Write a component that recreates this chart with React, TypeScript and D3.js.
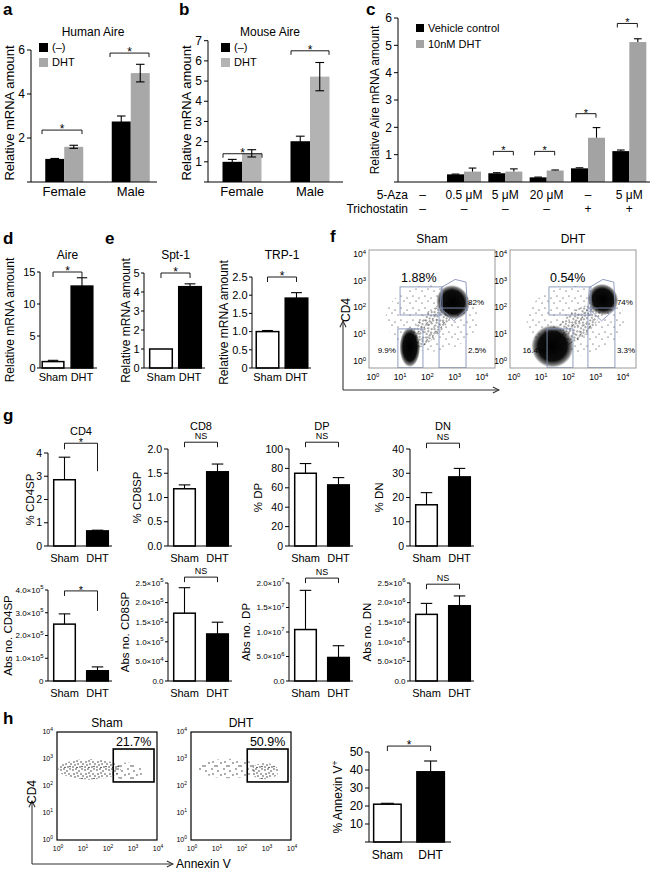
import React from 'react'
import * as d3 from 'd3'

const FONT = "'Liberation Sans', Arial, Helvetica, sans-serif"
const GREY = '#a8a8a8'

// a / b: Aire expression, vehicle vs DHT
const sexGroups = ['Female', 'Male']
const humanCtrl = [1.05, 2.75]
const humanCtrlErr = [0.02, 0.25]
const humanDht = [1.6, 4.95]
const humanDhtErr = [0.07, 0.4]
const mouseCtrl = [1.0, 2.02]
const mouseCtrlErr = [0.12, 0.25]
const mouseDht = [1.42, 5.22]
const mouseDhtErr = [0.18, 0.7]

// c: 5-Aza / Trichostatin
const azaLabels = ['–', '0.5 μM', '5 μM', '20 μM', '–', '5 μM']
const trichoLabels = ['–', '–', '–', '–', '+', '+']
const cCtrl = [0, 0.28, 0.32, 0.17, 0.5, 1.13]
const cCtrlErr = [0, 0.01, 0.02, 0.01, 0.02, 0.04]
const cDht = [0, 0.38, 0.38, 0.42, 1.62, 5.12]
const cDhtErr = [0, 0.13, 0.1, 0.02, 0.37, 0.12]
const cSig = [null, null, 1.12, 1.12, 2.5, 5.8]

// d / e
const shamDht = ['Sham', 'DHT']
const aireVivo = [1.0, 12.8]
const aireVivoErr = [0.2, 1.3]
const spt1 = [1.0, 4.28]
const spt1Err = [0, 0.15]
const trp1 = [1.0, 1.92]
const trp1Err = [0.03, 0.15]

// g: thymocyte subsets
const subsetNames = ['CD4', 'CD8', 'DP', 'DN']
const pctLabels = ['% CD4SP', '% CD8SP', '% DP', '% DN']
const pctMean = [[2.85, 0.65], [1.18, 1.53], [75, 63], [17, 28.5]]
const pctErr = [[0.97, 0.03], [0.08, 0.16], [10, 7.5], [5, 3.5]]
const pctTicks = [[0, 1, 2, 3, 4], [0, 0.5, 1, 1.5, 2], [0, 20, 40, 60, 80, 100], [0, 10, 20, 30, 40]]
const pctFmt = ['d', '.1f', 'd', 'd']
const pctBracket = [4.42, 2.14, 107, 42.4]
const sigMarks = ['*', 'NS', 'NS', 'NS']
const absLabels = ['Abs no. CD4SP', 'Abs no. CD8SP', 'Abs no. DP', 'Abs no. DN']
const absMean = [[2.5e5, 0.45e5], [1.73e5, 1.2e5], [1.05e7, 4.8e6], [1.7e6, 1.92e6]]
const absErr = [[0.45e5, 0.17e5], [0.65e5, 0.3e5], [0.8e7, 2.4e6], [0.28e6, 0.25e6]]
const absTicks = [[0, 1e5, 2e5, 3e5, 4e5], [0, 5e4, 1e5, 1.5e5, 2e5, 2.5e5], [0, 5e6, 1e7, 1.5e7, 2e7], [0, 5e5, 1e6, 1.5e6, 2e6, 2.5e6]]
const absBracket = [3.96e5, 2.65e5, 2.1e7, 2.47e6]

// h: Annexin V
const annexinPct = [21, 39]
const annexinErr = [0.5, 6]

// f: CD4 x CD8 populations (log10 units): centre, radii, rotation, density kind
const fShamPops = [
  { c: [2.2, 1.6], r: [1.7, 1.25], rot: 0, kind: 'sparse' },
  { c: [2.1, 1.3], r: [1.15, 0.45], rot: -45, kind: 'dense' },
  { c: [2.97, 2.2], r: [0.6, 0.66], rot: -35, kind: 'core' },
  { c: [1.39, 0.52], r: [0.38, 0.75], rot: 0, kind: 'core' },
]
const fDhtPops = [
  { c: [2.3, 1.5], r: [1.8, 1.3], rot: 0, kind: 'sparse' },
  { c: [2.35, 1.35], r: [1.05, 0.48], rot: -40, kind: 'dense' },
  { c: [3.3, 2.3], r: [0.55, 0.6], rot: -35, kind: 'core' },
  { c: [1.45, 0.55], r: [0.78, 0.8], rot: 0, kind: 'core' },
]
const fShamGates = [[1.03, 2.57, 1.72, 2.77], [0.95, 1.87, -0.25, 1.2], [2.46, 3.45, -0.25, 1.98]]
const fDhtGates = [[1.32, 2.86, 1.72, 2.77], [1.25, 2.2, -0.25, 1.2], [2.75, 3.74, -0.25, 1.98]]
const fShamDpGate = [[2.5, 2.0], [2.55, 2.75], [3.05, 3.05], [3.45, 2.95], [3.5, 1.95], [3.0, 1.5]]
const fDhtDpGate = [[2.75, 2.0], [2.8, 2.75], [3.3, 3.05], [3.7, 2.95], [3.75, 1.95], [3.25, 1.5]]
const fShamPct = ['1.88%', '82%', '9.9%', '2.5%']
const fDhtPct = ['0.54%', '74%', '16.4%', '3.3%']

// h: CD4 x Annexin V populations
const hShamPops = [
  { c: [1.3, 2.62], r: [1.25, 0.38], rot: 0, kind: 'dense' },
  { c: [2.8, 2.55], r: [0.65, 0.32], rot: 0, kind: 'medium' },
]
const hDhtPops = [
  { c: [1.5, 2.65], r: [1.2, 0.36], rot: 0, kind: 'medium' },
  { c: [2.95, 2.55], r: [0.55, 0.3], rot: 0, kind: 'dense' },
]
const hGate = [2.25, 3.88, 2.15, 3.37]
const hPct = ['21.7%', '50.9%']

// texture tiles for dot-plot clouds
const denseTile = [[1, 2], [4, 1], [7, 3], [10, 1], [2, 6], [5, 5], [9, 6], [11, 8], [3, 9], [6, 8], [8, 11], [1, 11], [5, 11.5], [10, 10.5]]
const mediumTile = [[2, 3], [8, 1], [5, 7], [11, 10], [1, 10], [9, 6]]
const sparseTile = [[2, 3], [8, 1], [5, 8], [11, 10]]

const sci = (v: number) => {
  if (v === 0) return '0.0'
  const ex = Math.floor(Math.log10(v) + 1e-9)
  return (
    <>
      {(v / 10 ** ex).toFixed(1)}×10<tspan dy="-3.5" fontSize="0.75em">{ex}</tspan>
    </>
  )
}

const pow10 = (k: number) => (
  <>
    10<tspan dy="-3" fontSize="0.7em">{k}</tspan>
  </>
)

function YAxis({ x, scale, ticks, fmt, size = 11, tick = 4, gap = 2, labelZero = true }: any) {
  const top = ticks[ticks.length - 1]
  return (
    <g>
      <line x1={x} x2={x} y1={scale(0)} y2={scale(top)} stroke="#000" />
      {ticks.map((t: number) => (
        <g key={t}>
          <line x1={x - tick} x2={x} y1={scale(t)} y2={scale(t)} stroke="#000" />
          {(t !== 0 || labelZero) && (
            <text x={x - tick - gap} y={scale(t)} dy="0.35em" textAnchor="end" fontSize={size}>
              {fmt(t)}
            </text>
          )}
        </g>
      ))}
    </g>
  )
}

function YLabel({ x, y, text, size = 12 }: any) {
  return (
    <text transform={`translate(${x},${y}) rotate(-90)`} textAnchor="middle" fontSize={size}>
      {text}
    </text>
  )
}

function ErrBar({ cx, y, v, e, w, both = false }: any) {
  if (!e) return null
  const lo = both ? v - e : v
  return (
    <g stroke="#000" strokeWidth={1.1}>
      <line x1={cx} x2={cx} y1={y(lo)} y2={y(v + e)} />
      <line x1={cx - w / 2} x2={cx + w / 2} y1={y(v + e)} y2={y(v + e)} />
      {both && <line x1={cx - w / 2} x2={cx + w / 2} y1={y(lo)} y2={y(lo)} />}
    </g>
  )
}

function Bracket({ x1, x2, y, l1 = 4, l2 = 4, label, size = 11 }: any) {
  const star = label === '*'
  return (
    <g>
      <path d={`M${x1},${y + l1}V${y}H${x2}V${y + l2}`} fill="none" stroke="#000" strokeWidth={0.9} />
      <text x={(x1 + x2) / 2} y={star ? y + 3 : y - 3.5} textAnchor="middle" fontSize={star ? size : size - 2} fill="#000">
        {label}
      </text>
    </g>
  )
}

function Legend({ x, y, items, size = 11, box = 9, step = 15 }: any) {
  return (
    <g>
      {items.map((it: any, i: number) => (
        <g key={it.label}>
          <rect x={x} y={y + i * step} width={box} height={box} fill={it.fill} />
          <text x={x + box + 4} y={y + i * step + box / 2} dy="0.35em" fontSize={size}>
            {it.label}
          </text>
        </g>
      ))}
    </g>
  )
}

function GroupedBars({ groups, band, y, ctrl, ctrlErr, dht, dhtErr, bw, both, dhtFill = GREY }: any) {
  return (
    <g>
      {groups.map((g: string, i: number) => {
        const c = band(g)! + band.bandwidth() / 2
        return (
          <g key={g + i}>
            {ctrl[i] > 0 && <rect x={c - bw} y={y(ctrl[i])} width={bw} height={y(0) - y(ctrl[i])} fill="#000" />}
            {dht[i] > 0 && <rect x={c} y={y(dht[i])} width={bw} height={y(0) - y(dht[i])} fill={dhtFill} />}
            <ErrBar cx={c - bw / 2} y={y} v={ctrl[i]} e={ctrlErr[i]} w={bw * 0.45} both={both} />
            <ErrBar cx={c + bw / 2} y={y} v={dht[i]} e={dhtErr[i]} w={bw * 0.45} both={both} />
          </g>
        )
      })}
    </g>
  )
}

function PairBars({ x0, width, pi, po, y, vals, errs, ticks, fmt, tickSize = 11, tick = 4, gap = 2, labelZero = true, axisEnd, labelY, labelSize = 12, bracket, sig = '*', legs = [5, 5], title, titleY, titleSize = 12, ylabel, ylabelX, ylabelSize = 12, capFrac = 0.45 }: any) {
  const x = d3.scaleBand().domain(shamDht).range([x0, x0 + width]).paddingInner(pi).paddingOuter(po)
  const bw = x.bandwidth()
  const cs = shamDht.map((k) => x(k)! + bw / 2)
  const [yb, yt] = y.range()
  return (
    <g>
      {shamDht.map((k, i) => (
        <g key={k}>
          <rect x={x(k)! + 0.75} y={y(vals[i])} width={bw - 1.5} height={y(0) - y(vals[i])} fill={i ? '#000' : '#fff'} stroke="#000" strokeWidth={1.5} />
          <ErrBar cx={cs[i]} y={y} v={vals[i]} e={errs[i]} w={bw * capFrac} />
          <text x={cs[i]} y={labelY} textAnchor="middle" fontSize={labelSize}>{k}</text>
        </g>
      ))}
      <line x1={x0} x2={axisEnd} y1={yb} y2={yb} stroke="#000" />
      <YAxis x={x0} scale={y} ticks={ticks} fmt={fmt} size={tickSize} tick={tick} gap={gap} labelZero={labelZero} />
      {bracket !== undefined && <Bracket x1={cs[0]} x2={cs[1]} y={y(bracket)} l1={legs[0]} l2={legs[1]} label={sig} size={titleSize} />}
      {title && <text x={(cs[0] + cs[1]) / 2} y={titleY} textAnchor="middle" fontSize={titleSize}>{title}</text>}
      {ylabel && <YLabel x={ylabelX} y={(yb + yt) / 2} text={ylabel} size={ylabelSize} />}
    </g>
  )
}

function Blobs({ pops, px, py, dx, dy }: any) {
  const fills: any = { core: 'url(#blobCore)', dense: 'url(#dotsDense)', medium: 'url(#dotsMedium)', sparse: 'url(#dotsSparse)' }
  return (
    <g>
      {pops.map((p: any, i: number) => {
        const cx = px(p.c[0])
        const cy = py(p.c[1])
        return (
          <ellipse key={i} cx={cx} cy={cy} rx={p.r[0] * dx} ry={p.r[1] * dy} fill={fills[p.kind]} transform={`rotate(${p.rot},${cx},${cy})`} />
        )
      })}
    </g>
  )
}

function FlowF({ x0, pops, gates, dpGate, pct, title }: any) {
  const xs = d3.scaleLog().domain([1, 1e4]).range([x0 + 3, x0 + 112])
  const ys = d3.scaleLog().domain([1, 1e4]).range([361, 254])
  const px = (L: number) => xs(10 ** L)
  const py = (L: number) => ys(10 ** L)
  const dx = xs(10) - xs(1)
  const dy = ys(1) - ys(10)
  const id = `clipF${x0}`
  const gateColor = '#8593b8'
  const line = d3.line().x((d: any) => px(d[0])).y((d: any) => py(d[1])).curve(d3.curveLinearClosed)
  return (
    <g>
      <defs>
        <clipPath id={id}><rect x={x0} y={250} width={126} height={118} /></clipPath>
      </defs>
      <g clipPath={`url(#${id})`}>
        <Blobs pops={pops} px={px} py={py} dx={dx} dy={dy} />
        {gates.map((g: number[], i: number) => (
          <rect key={i} x={px(g[0])} y={py(g[3])} width={px(g[1]) - px(g[0])} height={py(g[2]) - py(g[3])} fill="none" stroke={gateColor} strokeWidth={0.9} />
        ))}
        <path d={line(dpGate as any) || ''} fill="none" stroke={gateColor} strokeWidth={0.9} />
      </g>
      <rect x={x0} y={250} width={126} height={118} fill="none" stroke="#999" />
      {[0, 1, 2, 3, 4].map((k) => (
        <g key={k} fontSize={8.5}>
          <text x={x0 - 3} y={py(k)} dy="0.35em" textAnchor="end">{pow10(k)}</text>
          <text x={px(k) + 1} y={380} textAnchor="middle">{pow10(k)}</text>
        </g>
      ))}
      <text x={x0 + 63} y={243} textAnchor="middle" fontSize={12}>{title}</text>
      <text x={px(gates[0][0]) + 1} y={282} fontSize={12.5}>{pct[0]}</text>
      <text x={px(gates[2][1]) + 2} y={py(2.2)} dy="0.35em" fontSize={8}>{pct[1]}</text>
      <text x={px(gates[1][0]) - 2} y={py(0.4)} dy="0.35em" fontSize={8} textAnchor="end">{pct[2]}</text>
      <text x={px(gates[2][1]) + 2} y={py(0.4)} dy="0.35em" fontSize={8}>{pct[3]}</text>
    </g>
  )
}

function FlowH({ x0, pops, pct, title }: any) {
  const xs = d3.scaleLog().domain([1, 1e4]).range([x0, x0 + 100])
  const ys = d3.scaleLog().domain([1, 1e4]).range([840, 732])
  const px = (L: number) => xs(10 ** L)
  const py = (L: number) => ys(10 ** L)
  const dx = xs(10) - xs(1)
  const dy = ys(1) - ys(10)
  return (
    <g>
      <Blobs pops={pops} px={px} py={py} dx={dx} dy={dy} />
      <rect x={px(hGate[0])} y={py(hGate[3])} width={px(hGate[1]) - px(hGate[0])} height={py(hGate[2]) - py(hGate[3])} fill="none" stroke="#000" strokeWidth={1.6} />
      <rect x={x0} y={732} width={100} height={108} fill="none" stroke="#000" strokeWidth={1.2} />
      {[0, 1, 2, 3, 4].map((k) => (
        <g key={k} fontSize={7}>
          <text x={x0 - 4} y={py(k)} dy="0.35em" textAnchor="end">{pow10(k)}</text>
          <text x={px(k) + 1} y={851} textAnchor="middle">{pow10(k)}</text>
        </g>
      ))}
      <text x={x0 + 50} y={727} textAnchor="middle" fontSize={12}>{title}</text>
      <text x={(px(hGate[0]) + px(hGate[1])) / 2} y={746} textAnchor="middle" fontSize={12.5}>{pct}</text>
    </g>
  )
}

function Arrow({ x1, y1, x2, y2 }: any) {
  return <line x1={x1} y1={y1} x2={x2} y2={y2} stroke="#333" strokeWidth={1.1} markerEnd="url(#arrowHead)" />
}

function Tile({ id, size, pts, r }: any) {
  return (
    <pattern id={id} width={size} height={size} patternUnits="userSpaceOnUse">
      {pts.map((p: number[], i: number) => (
        <circle key={i} cx={p[0]} cy={p[1]} r={r} fill="#111" />
      ))}
    </pattern>
  )
}

export default function App() {
  // a
  const yA = d3.scaleLinear().domain([0, 6]).range([182, 50])
  const bandA = d3.scaleBand().domain(sexGroups).range([31, 164])
  // b
  const yB = d3.scaleLinear().domain([0, 7]).range([182, 40.7])
  const bandB = d3.scaleBand().domain(sexGroups).range([208, 344])
  // c
  const yC = d3.scaleLinear().domain([0, 6]).range([182, 18])
  const idx = azaLabels.map((_, i) => String(i))
  const bandC = d3.scaleBand().domain(idx).range([402, 650])
  const cCenter = (i: number) => bandC(String(i))! + bandC.bandwidth() / 2

  const gX = [48, 168, 289, 410]

  return (
    <svg width={650} height={871} style={{ position: 'absolute', left: 0, top: 0, background: '#fff' }} fontFamily={FONT}>
      <defs>
        <radialGradient id="blobCore">
          <stop offset="0" stopColor="#000" stopOpacity={1} />
          <stop offset="0.68" stopColor="#000" stopOpacity={0.95} />
          <stop offset="0.88" stopColor="#000" stopOpacity={0.5} />
          <stop offset="1" stopColor="#000" stopOpacity={0} />
        </radialGradient>
        <Tile id="dotsDense" size={12} pts={denseTile} r={0.7} />
        <Tile id="dotsMedium" size={12} pts={mediumTile} r={0.65} />
        <Tile id="dotsSparse" size={12} pts={sparseTile} r={0.55} />
        <marker id="arrowHead" viewBox="0 0 10 10" refX={9} refY={5} markerWidth={7} markerHeight={7} orient="auto">
          <path d="M1,1L9,5L1,9" fill="none" stroke="#333" strokeWidth={1.4} />
        </marker>
      </defs>

      {/* panel letters */}
      <g fontWeight="bold" fontSize={17}>
        <text x={3} y={15}>a</text>
        <text x={179} y={15}>b</text>
        <text x={366} y={15}>c</text>
        <text x={3} y={244}>d</text>
        <text x={105} y={244}>e</text>
        <text x={330} y={242}>f</text>
        <text x={3} y={421}>g</text>
        <text x={3} y={724}>h</text>
      </g>

      {/* a */}
      <g>
        <GroupedBars groups={sexGroups} band={bandA} y={yA} ctrl={humanCtrl} ctrlErr={humanCtrlErr} dht={humanDht} dhtErr={humanDhtErr} bw={19} both />
        <line x1={31} x2={157} y1={182} y2={182} stroke="#000" />
        <YAxis x={31} scale={yA} ticks={[0, 2, 4, 6]} fmt={d3.format('d')} size={12} labelZero={false} />
        <Bracket x1={42} x2={82} y={yA(2.36)} label="*" size={12} />
        <Bracket x1={110} x2={149} y={yA(5.86)} label="*" size={12} />
        <Legend x={39} y={43} items={[{ label: '(–)', fill: '#000' }, { label: 'DHT', fill: GREY }]} />
        <text x={93} y={36} textAnchor="middle" fontSize={12}>Human Aire</text>
        {sexGroups.map((g) => (
          <text key={g} x={bandA(g)! + bandA.bandwidth() / 2} y={196} textAnchor="middle" fontSize={13}>{g}</text>
        ))}
        <YLabel x={14} y={113} text="Relative  mRNA amount" size={13} />
      </g>

      {/* b */}
      <g>
        <GroupedBars groups={sexGroups} band={bandB} y={yB} ctrl={mouseCtrl} ctrlErr={mouseCtrlErr} dht={mouseDht} dhtErr={mouseDhtErr} bw={19.5} both dhtFill="#b3b3b3" />
        <line x1={208} x2={343} y1={182} y2={182} stroke="#000" />
        <YAxis x={208} scale={yB} ticks={[0, 1, 2, 3, 4, 5, 6, 7]} fmt={d3.format('d')} size={12} labelZero={false} />
        <Bracket x1={223} x2={262} y={yB(1.4)} label="*" size={12} />
        <Bracket x1={291} x2={329} y={yB(6.5)} label="*" size={12} />
        <Legend x={221} y={43} items={[{ label: '(–)', fill: '#000' }, { label: 'DHT', fill: '#b3b3b3' }]} />
        <text x={270} y={36} textAnchor="middle" fontSize={12}>Mouse Aire</text>
        {sexGroups.map((g) => (
          <text key={g} x={bandB(g)! + bandB.bandwidth() / 2} y={196} textAnchor="middle" fontSize={13}>{g}</text>
        ))}
        <YLabel x={191} y={113} text="Relative  mRNA amount" size={13} />
      </g>

      {/* c */}
      <g>
        <GroupedBars groups={idx} band={bandC} y={yC} ctrl={cCtrl} ctrlErr={cCtrlErr} dht={cDht} dhtErr={cDhtErr} bw={17} dhtFill="#a3a3a3" />
        <line x1={398} x2={650} y1={182} y2={182} stroke="#000" />
        <YAxis x={398} scale={yC} ticks={[0, 1, 2, 3, 4, 5, 6]} fmt={d3.format('d')} size={12} labelZero={false} />
        {cSig.map((s, i) => s !== null && (
          <Bracket key={i} x1={cCenter(i) - 12} x2={cCenter(i) + 8} y={yC(s)} label="*" size={11} />
        ))}
        <Legend x={416} y={24} box={8} step={16} items={[{ label: 'Vehicle control', fill: '#000' }, { label: '10nM DHT', fill: '#a3a3a3' }]} />
        <YLabel x={379} y={100} text="Relative Aire mRNA amount" size={12} />
        <g fontSize={12}>
          <text x={408} y={199} textAnchor="end">5-Aza</text>
          <text x={408} y={213} textAnchor="end">Trichostatin</text>
          {azaLabels.map((t, i) => (
            <text key={'a' + i} x={cCenter(i)} y={199} textAnchor="middle">{t}</text>
          ))}
          {trichoLabels.map((t, i) => (
            <text key={'t' + i} x={cCenter(i)} y={213} textAnchor="middle">{t}</text>
          ))}
        </g>
      </g>

      {/* d */}
      <PairBars x0={40} width={55} pi={0.2} po={0.05} y={d3.scaleLinear().domain([0, 15]).range([368, 272])} vals={aireVivo} errs={aireVivoErr} ticks={[0, 5, 10, 15]} fmt={d3.format('d')} tickSize={11} tick={3} gap={1.5} axisEnd={97} labelY={381} labelSize={11} bracket={15} title="Aire" titleY={259} ylabel="Relative mRNA amount" ylabelX={14} />

      {/* e */}
      <PairBars x0={144} width={63} pi={0.17} po={0.17} y={d3.scaleLinear().domain([0, 5]).range([368, 273])} vals={spt1} errs={spt1Err} ticks={[0, 1, 2, 3, 4, 5]} fmt={d3.format('d')} tickSize={11} tick={3} gap={1.5} axisEnd={205} labelY={381} labelSize={11} bracket={5} title="Spt-1" titleY={259} ylabel="Relative mRNA amount" ylabelX={130} />
      <PairBars x0={252} width={60} pi={0.17} po={0.12} y={d3.scaleLinear().domain([0, 2.5]).range([368, 277])} vals={trp1} errs={trp1Err} ticks={[0, 0.5, 1, 1.5, 2, 2.5]} fmt={(t: number) => (t === 0 ? '0' : d3.format('.1f')(t))} tickSize={11} tick={3} gap={1.5} axisEnd={311} labelY={381} labelSize={11} bracket={2.5} title="TRP-1" titleY={259} ylabel="Relative mRNA amount" ylabelX={228} />

      {/* f */}
      <FlowF x0={369} pops={fShamPops} gates={fShamGates} dpGate={fShamDpGate} pct={fShamPct} title="Sham" />
      <FlowF x0={510} pops={fDhtPops} gates={fDhtGates} dpGate={fDhtDpGate} pct={fDhtPct} title="DHT" />
      <Arrow x1={343} y1={390} x2={343} y2={321} />
      <Arrow x1={343} y1={390} x2={499} y2={390} />
      <YLabel x={350} y={310} text="CD4" size={12} />

      {/* g, top row: percentages */}
      {subsetNames.map((name, i) => {
        const top = pctTicks[i][pctTicks[i].length - 1]
        const y = d3.scaleLinear().domain([0, top]).range([546, i === 0 ? 453 : 449])
        return (
          <PairBars key={'p' + name} x0={gX[i]} width={66} pi={0.3} po={0.15} y={y} vals={pctMean[i]} errs={pctErr[i]} ticks={pctTicks[i]} fmt={d3.format(pctFmt[i])} tickSize={10.5} axisEnd={gX[i] + 64} labelY={562} labelSize={11} bracket={pctBracket[i]} sig={sigMarks[i]} legs={i === 0 ? [6, 28] : [5, 5]} title={name} titleY={i === 0 ? 435 : 430} titleSize={11} ylabel={pctLabels[i]} ylabelX={i === 0 ? gX[i] - 14 : gX[i] - 27} ylabelSize={11.5} capFrac={0.5} />
        )
      })}

      {/* g, bottom row: absolute numbers */}
      {subsetNames.map((name, i) => {
        const top = absTicks[i][absTicks[i].length - 1]
        const y = d3.scaleLinear().domain([0, top]).range([681, i === 0 ? 590 : 583])
        const fmt = i === 0 ? (t: number) => (t === 0 ? '0' : sci(t)) : sci
        return (
          <PairBars key={'a' + name} x0={gX[i]} width={66} pi={0.3} po={0.15} y={y} vals={absMean[i]} errs={absErr[i]} ticks={absTicks[i]} fmt={fmt} tickSize={8} tick={3} gap={1.5} axisEnd={gX[i] + 64} labelY={697} labelSize={11} bracket={absBracket[i]} sig={sigMarks[i]} legs={i === 0 ? [5, 20] : [5, 5]} titleSize={11} ylabel={absLabels[i]} ylabelX={i === 0 ? gX[i] - 36 : gX[i] - 39} ylabelSize={11.5} capFrac={0.5} />
        )
      })}

      {/* h */}
      <FlowH x0={57} pops={hShamPops} pct={hPct[0]} title="Sham" />
      <FlowH x0={191} pops={hDhtPops} pct={hPct[1]} title="DHT" />
      <Arrow x1={32} y1={864} x2={32} y2={801} />
      <Arrow x1={32} y1={864} x2={173} y2={864} />
      <YLabel x={36} y={792} text="CD4" size={12} />
      <text x={176} y={868} fontSize={12}>Annexin V</text>

      <PairBars x0={369} width={80} pi={0.33} po={0.09} y={d3.scaleLinear().domain([0, 50]).range([842, 752])} vals={annexinPct} errs={annexinErr} ticks={[0, 10, 20, 30, 40, 50]} fmt={d3.format('d')} tickSize={12} labelZero={false} axisEnd={451} labelY={859} bracket={53.3} title={null} ylabel={<>% Annexin V<tspan dy="-4" fontSize="0.7em">+</tspan></>} ylabelX={342} capFrac={0.45} />
    </svg>
  )
}
